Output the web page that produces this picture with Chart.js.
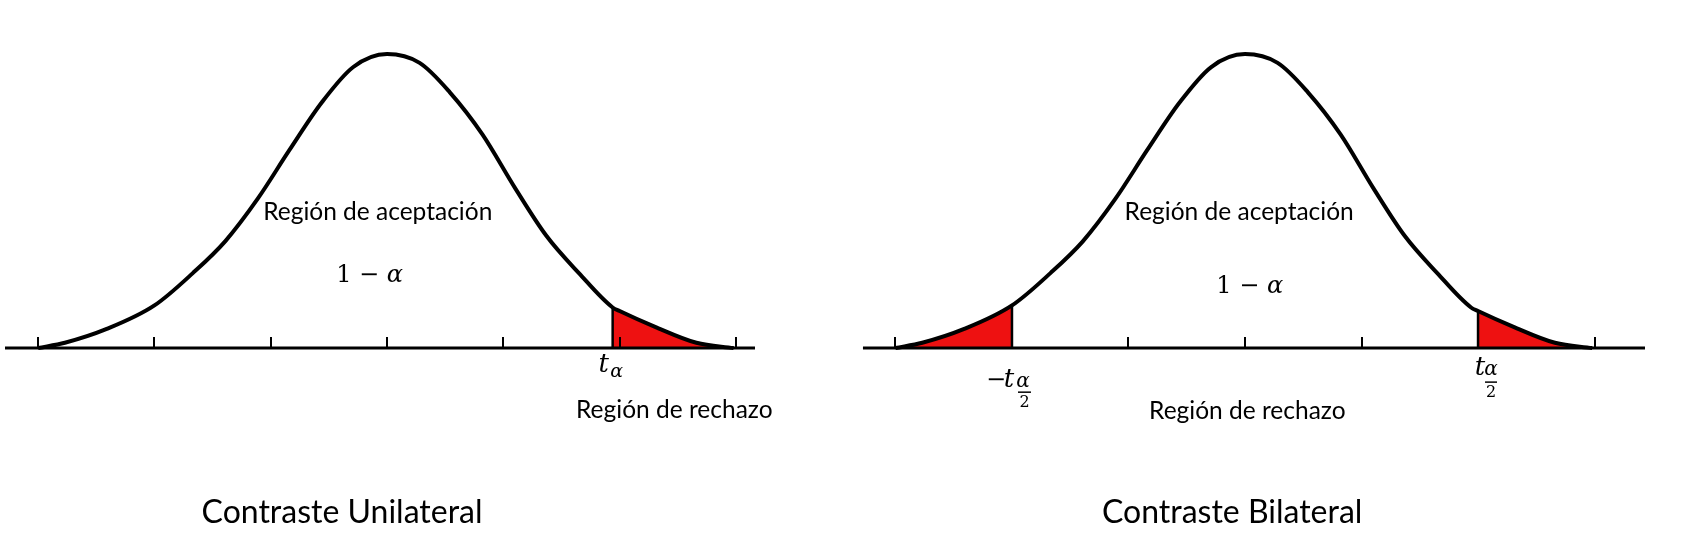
<!DOCTYPE html>
<html>
<head>
<meta charset="utf-8">
<title>Contraste unilateral y bilateral</title>
<script src="https://cdn.jsdelivr.net/npm/chart.js@4.4.1/dist/chart.umd.min.js"></script>
<style>
  body { margin: 0; background: #fff; width: 1681px; height: 554px; overflow: hidden; position: relative; }
  .panel { position: absolute; top: 0; height: 554px; }
  #left { left: 0; width: 800px; }
  #right { left: 840px; width: 841px; }
</style>
</head>
<body>
<div class="panel" id="left"><canvas id="uni"></canvas></div>
<div class="panel" id="right"><canvas id="bi"></canvas></div>
<script>
// bell curve as drawn: x in tick steps from the centre, height in % of the peak
const curveX = [-3.0, -2.77, -2.41, -2.0, -1.67, -1.39, -1.11, -0.84, -0.56, -0.29, 0, 0.28, 0.54, 0.82, 1.1, 1.37, 1.65, 1.94, 2.0, 2.3, 2.66, 2.98];
const curveY = [0, 1.8, 6.5, 14.5, 25.5, 36.4, 50.9, 67.3, 83.6, 95.6, 100, 97, 87, 72.7, 54.5, 38.2, 25.5, 13.8, 12.6, 7.3, 1.8, 0];

const tickValues = [-3, -2, -1, 0, 1, 2, 3];

// where the rejection region starts
const unilateralCut = 1.94;
const bilateralCuts = [-2.0, 2.0];

const RED = '#ee1111';

function curvePoints(from, to) {
    let pts = [];
    for (let i = 0; i < curveX.length; i++) {
        if (curveX[i] >= from && curveX[i] <= to) pts.push({x: curveX[i], y: curveY[i]});
    }
    return pts;
}
function heightAt(x) {
    return curveY[curveX.indexOf(x)];
}

// axis line + small upward ticks
const axisPlugin = {
    id: 'axisLine',
    afterDatasetsDraw(chart, args, opts) {
        const ctx = chart.ctx, xs = chart.scales.x, ys = chart.scales.y;
        const y0 = ys.getPixelForValue(0);
        ctx.save();
        ctx.strokeStyle = '#000';
        ctx.lineWidth = 3;
        ctx.beginPath();
        ctx.moveTo(xs.getPixelForValue(opts.from), y0);
        ctx.lineTo(xs.getPixelForValue(opts.to), y0);
        ctx.stroke();
        ctx.lineWidth = 2;
        for (let v of tickValues) {
            const px = Math.round(xs.getPixelForValue(v));
            ctx.beginPath();
            ctx.moveTo(px, y0);
            ctx.lineTo(px, y0 - 11);
            ctx.stroke();
        }
        ctx.restore();
    }
};

// all the text of a panel, placed in data coordinates
const textPlugin = {
    id: 'panelText',
    afterDraw(chart, args, opts) {
        const ctx = chart.ctx, xs = chart.scales.x, ys = chart.scales.y;
        ctx.save();
        ctx.fillStyle = '#000';
        ctx.strokeStyle = '#000';
        ctx.textBaseline = 'alphabetic';
        for (let l of opts.items || []) {
            const px = xs.getPixelForValue(l.x), py = ys.getPixelForValue(l.y);
            if (l.runs) {
                // runs written one after another, centred as a whole
                let w = 0;
                for (let r of l.runs) { ctx.font = r.font; w += ctx.measureText(r.text).width; }
                let cx = px - w / 2;
                ctx.textAlign = 'left';
                for (let r of l.runs) {
                    ctx.font = r.font;
                    ctx.fillText(r.text, cx, py);
                    cx += ctx.measureText(r.text).width;
                }
            } else if (l.parts) {
                ctx.textAlign = 'center';
                for (let p of l.parts) {
                    if (p.bar) {
                        ctx.lineWidth = 1.5;
                        ctx.beginPath();
                        ctx.moveTo(px + p.bar[0], py + p.dy);
                        ctx.lineTo(px + p.bar[1], py + p.dy);
                        ctx.stroke();
                    } else {
                        ctx.font = p.font;
                        ctx.fillText(p.text, px + p.dx, py + p.dy);
                    }
                }
            } else {
                ctx.font = l.font;
                ctx.textAlign = 'center';
                ctx.fillText(l.text, px, py);
            }
        }
        ctx.restore();
    }
};

const SANS = '"Lato", "Open Sans", sans-serif';
const MATH = '"DejaVu Serif", serif';

function makePanel(id, cfg) {
    let datasets = [
        {
            data: curveX.map((x, i) => ({x: x, y: curveY[i]})),
            borderColor: '#000',
            borderWidth: 4,
            fill: false,
            cubicInterpolationMode: 'monotone',
            order: 0
        }
    ];
    for (let r of cfg.regions) {
        datasets.push({
            data: curvePoints(r[0], r[1]),
            borderWidth: 0,
            borderColor: 'rgba(0,0,0,0)',
            backgroundColor: RED,
            fill: 'origin',
            cubicInterpolationMode: 'monotone',
            order: 3
        });
    }
    for (let c of cfg.cuts) {
        datasets.push({
            data: [{x: c, y: 0}, {x: c, y: heightAt(c)}],
            borderColor: '#000',
            borderWidth: 2.5,
            fill: false,
            tension: 0,
            order: 1
        });
    }
    return new Chart(id, {
        type: 'line',
        data: {datasets: datasets},
        options: {
            responsive: true,
            maintainAspectRatio: false,
            animation: false,
            events: [],
            layout: {padding: 0},
            elements: {point: {radius: 0}},
            scales: {
                x: {type: 'linear', min: cfg.xMin, max: cfg.xMax, display: false},
                y: {type: 'linear', min: -70.05, max: 118.4, display: false}
            },
            plugins: {
                legend: {display: false},
                tooltip: {enabled: false},
                axisLine: {from: cfg.axisFrom, to: cfg.axisTo},
                panelText: {items: cfg.labels}
            }
        },
        plugins: [axisPlugin, textPlugin]
    });
}

makePanel('uni', {
    xMin: -3.328, xMax: 3.551,
    axisFrom: -3.285, axisTo: 3.164,
    regions: [[unilateralCut, 3.0]],
    cuts: [unilateralCut],
    labels: [
        {text: 'Región de aceptación', x: -0.08, y: 43.5, font: '24.5px ' + SANS},
        {x: -0.15, y: 22.4, runs: [{text: '1 − ', font: '24px ' + MATH}, {text: 'α', font: 'italic 24px ' + MATH}]},
        {x: unilateralCut, y: -8.2, parts: [
            {text: 't', font: 'italic 26px ' + MATH, dx: -9, dy: 0},
            {text: 'α', font: 'italic 19px ' + MATH, dx: 4, dy: 5}
        ]},
        {text: 'Región de rechazo', x: 2.47, y: -23.8, font: '24.5px ' + SANS},
        {text: 'Contraste Unilateral', x: -0.387, y: -59.5, font: '32px ' + SANS}
    ]
});

makePanel('bi', {
    xMin: -3.476, xMax: 3.742,
    axisFrom: -3.279, axisTo: 3.433,
    regions: [[-3.0, bilateralCuts[0]], [bilateralCuts[1], 3.0]],
    cuts: bilateralCuts,
    labels: [
        {text: 'Región de aceptación', x: -0.05, y: 43.5, font: '24.5px ' + SANS},
        {x: 0.04, y: 18.7, runs: [{text: '1 − ', font: '24px ' + MATH}, {text: 'α', font: 'italic 24px ' + MATH}]},
        {x: bilateralCuts[0], y: -13.3, parts: [
            {text: '−', font: '24px ' + MATH, dx: -16, dy: 0},
            {text: 't', font: 'italic 26px ' + MATH, dx: -3, dy: 0},
            {text: 'α', font: 'italic 20px ' + MATH, dx: 11, dy: 0},
            {bar: [6, 19], dy: 5},
            {text: '2', font: '16px ' + MATH, dx: 12.5, dy: 20}
        ]},
        {x: bilateralCuts[1], y: -9.2, parts: [
            {text: 't', font: 'italic 26px ' + MATH, dx: 2, dy: 0},
            {text: 'α', font: 'italic 20px ' + MATH, dx: 13, dy: 0},
            {bar: [7, 19], dy: 7},
            {text: '2', font: '16px ' + MATH, dx: 13, dy: 22}
        ]},
        {text: 'Región de rechazo', x: 0.02, y: -24.2, font: '24.5px ' + SANS},
        {text: 'Contraste Bilateral', x: -0.11, y: -59.5, font: '32px ' + SANS}
    ]
});
</script>
</body>
</html>
